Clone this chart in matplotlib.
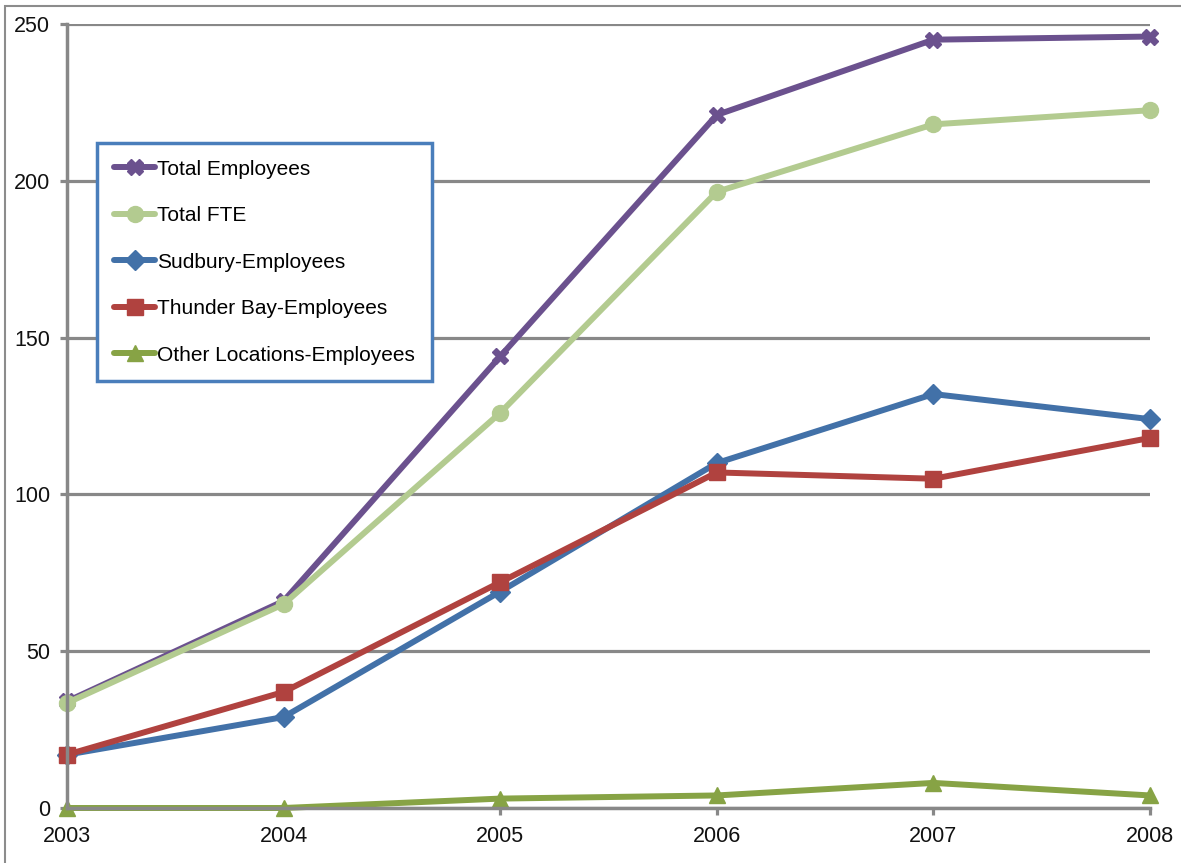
import matplotlib
matplotlib.use("Agg")
import matplotlib.pyplot as plt
from matplotlib.patches import Rectangle

# values
years = [2003, 2004, 2005, 2006, 2007, 2008]
total_employees = [34, 66, 144, 221, 245, 246]
total_fte = [33.5, 65, 126, 196.5, 218, 222.5]
sudbury = [17, 29, 69, 110, 132, 124]
thunder_bay = [17, 37, 72, 107, 105, 118]
other_locations = [0, 0, 3, 4, 8, 4]

series = [
    ("Total Employees", total_employees, "#6B518E", "X"),
    ("Total FTE", total_fte, "#B3CB90", "o"),
    ("Sudbury-Employees", sudbury, "#4271A8", "D"),
    ("Thunder Bay-Employees", thunder_bay, "#B0423F", "s"),
    ("Other Locations-Employees", other_locations, "#87A345", "^"),
]

plt.rcParams['font.family'] = ['Liberation Sans', 'DejaVu Sans']
grey = "#888888"

fig = plt.figure(figsize=(11.81, 8.63), dpi=100)
W, H = 1181, 863
ax = fig.add_axes([67 / W, (H - 808) / H, (1150 - 67) / W, (808 - 24) / H])

for label, vals, col, mk in series:
    ms = 10 if mk == "D" else 11.5
    ax.plot(years, vals, color=col, lw=4.3, marker=mk, ms=ms,
            markeredgecolor=col, label=label, clip_on=False,
            solid_joinstyle="round", solid_capstyle="round")

ax.set_xlim(2003, 2008)
ax.set_ylim(0, 250)
ax.set_xticks(years)
ax.set_yticks([0, 50, 100, 150, 200, 250])
ax.yaxis.grid(True, color=grey, lw=2.3)
ax.set_axisbelow(True)
for s in ["top", "right"]:
    ax.spines[s].set_visible(False)
for s in ["left", "bottom"]:
    ax.spines[s].set_color(grey)
    ax.spines[s].set_linewidth(2.5)
ax.tick_params(axis="both", direction="out", length=5, width=2.3, color=grey,
               labelsize=15.5, labelcolor="#111111")
ax.tick_params(axis="y", pad=7)
ax.tick_params(axis="x", pad=8)

leg = ax.legend(loc="upper left", bbox_to_anchor=((97 - 67) / 1083, (808 - 143) / 784),
                borderaxespad=0, fontsize=15, frameon=True, fancybox=False,
                handlelength=2.0, handletextpad=0.1, labelspacing=1.32,
                borderpad=0.8, markerscale=1.0)
leg.get_frame().set_edgecolor("#4A7EBB")
leg.get_frame().set_linewidth(2.5)
leg.get_frame().set_facecolor("white")
leg.get_frame().set_alpha(1)

# outer border around the chart area
fig.patches.append(Rectangle((5 / W, -0.02), 1.1, 1 - 6 / H + 0.02,
                             transform=fig.transFigure, fill=False,
                             edgecolor="#8C8C8C", lw=1.5))

fig.savefig("out.png", dpi=100)
